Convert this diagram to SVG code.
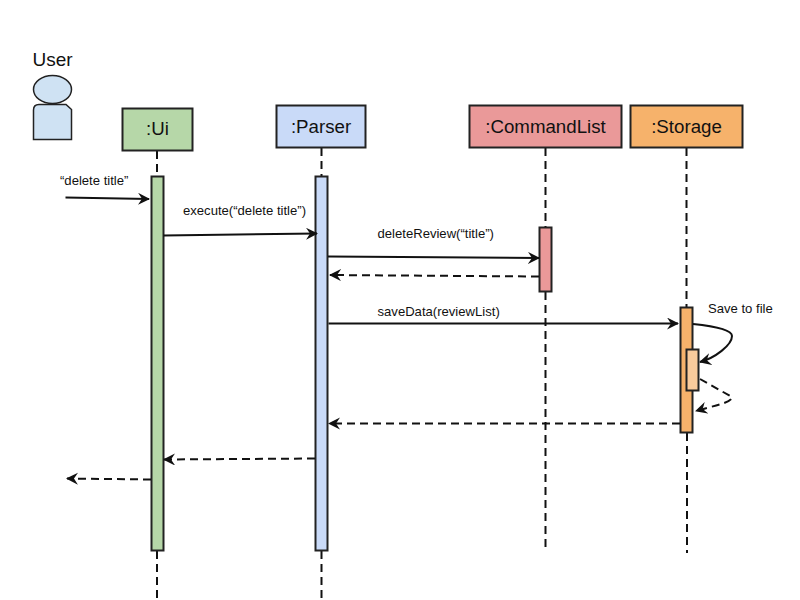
<svg xmlns="http://www.w3.org/2000/svg" width="800" height="600" viewBox="0 0 800 600">
<style>
text{font-family:"Liberation Sans",Arial,sans-serif;fill:#111}
.t{font-size:18.7px;text-anchor:middle}
.s{font-size:13.1px}
.b{stroke:#222;stroke-width:2}
.l{stroke:#111;stroke-width:2;stroke-dasharray:8 5;fill:none}
.c{stroke:#111;stroke-width:2;fill:none;marker-end:url(#a)}
.d{stroke:#111;stroke-width:2;fill:none;stroke-dasharray:8 5;marker-end:url(#a)}
</style>
<defs>
<marker id="a" markerUnits="userSpaceOnUse" markerWidth="14" markerHeight="14" refX="11" refY="6" orient="auto"><path d="M0 0L12 6L0 12L4 6Z" fill="#111"/></marker>
</defs>
<rect width="800" height="600" fill="#fff"/>
<g id="lifelines">
<path class="l" d="M157 151V177M157 551V600"/>
<path class="l" d="M321.500 148V177M321.500 551V600"/>
<path class="l" d="M545.500 148V227M545.500 292V550"/>
<path class="l" d="M686.500 148V307M687 433V553"/>
</g>
<g id="user">
<text x="52.500" y="65.500" font-size="19" text-anchor="middle">User</text>
<ellipse cx="52.500" cy="89.500" rx="19" ry="14" fill="#cfe2f3" stroke="#222" stroke-width="1.500"/>
<path d="M33.500 139.500V110Q33.500 104.500 39 104.500H66L71.500 109.500V139.500Z" fill="#cfe2f3" stroke="#222" stroke-width="1.500"/>
</g>
<g id="ui">
<rect class="b" x="122.500" y="108.500" width="70" height="42" fill="#b6d7a8"/>
<text class="t" x="157.500" y="135">:Ui</text>
<rect class="b" x="151.500" y="176.500" width="12" height="374" fill="#b6d7a8"/>
</g>
<g id="parser">
<rect class="b" x="276.500" y="105.500" width="89" height="42" fill="#c9daf8"/>
<text class="t" x="321" y="132.500">:Parser</text>
<rect class="b" x="315.500" y="176.500" width="12" height="374" fill="#c9daf8"/>
</g>
<g id="commandlist">
<rect class="b" x="469.500" y="105.500" width="152" height="42" fill="#ea9999"/>
<text class="t" x="545.500" y="132.500">:CommandList</text>
<rect class="b" x="539.500" y="227.500" width="12" height="64" fill="#ea9999"/>
</g>
<g id="storage">
<rect class="b" x="630.500" y="105.500" width="112" height="42" fill="#f6b26b"/>
<text class="t" x="686.500" y="132.500">:Storage</text>
<rect class="b" x="680.500" y="307.500" width="12" height="125" fill="#f6b26b"/>
<rect class="b" x="686.500" y="349.500" width="12" height="41" fill="#f9cb9c"/>
</g>
<g id="connectors">
<path class="c" d="M65.500 197.500L149 199"/>
<path class="c" d="M163.500 235.500L317 233.500"/>
<path class="c" d="M328 256.500L539 258"/>
<path class="d" d="M539 276.500L330 275"/>
<path class="c" d="M328.500 323.500L678 323.500"/>
<path class="c" d="M693 324C722 327 732 331 732 336C732 345 715 358 700 362"/>
<path class="d" d="M700 379L732 397C732 403 712 406 696 411"/>
<path class="d" d="M680 423.500L329 423.500"/>
<path class="d" d="M315 458.500L164 459.500"/>
<path class="d" d="M151 479.500L67 478.500"/>
</g>
<g id="labels">
<text class="s" x="60" y="184.500">“delete title”</text>
<text class="s" x="183" y="214.500">execute(“delete title”)</text>
<text class="s" x="377.500" y="238">deleteReview(“title”)</text>
<text class="s" x="377.500" y="316">saveData(reviewList)</text>
<text class="s" x="708" y="313">Save to file</text>
</g>
</svg>
